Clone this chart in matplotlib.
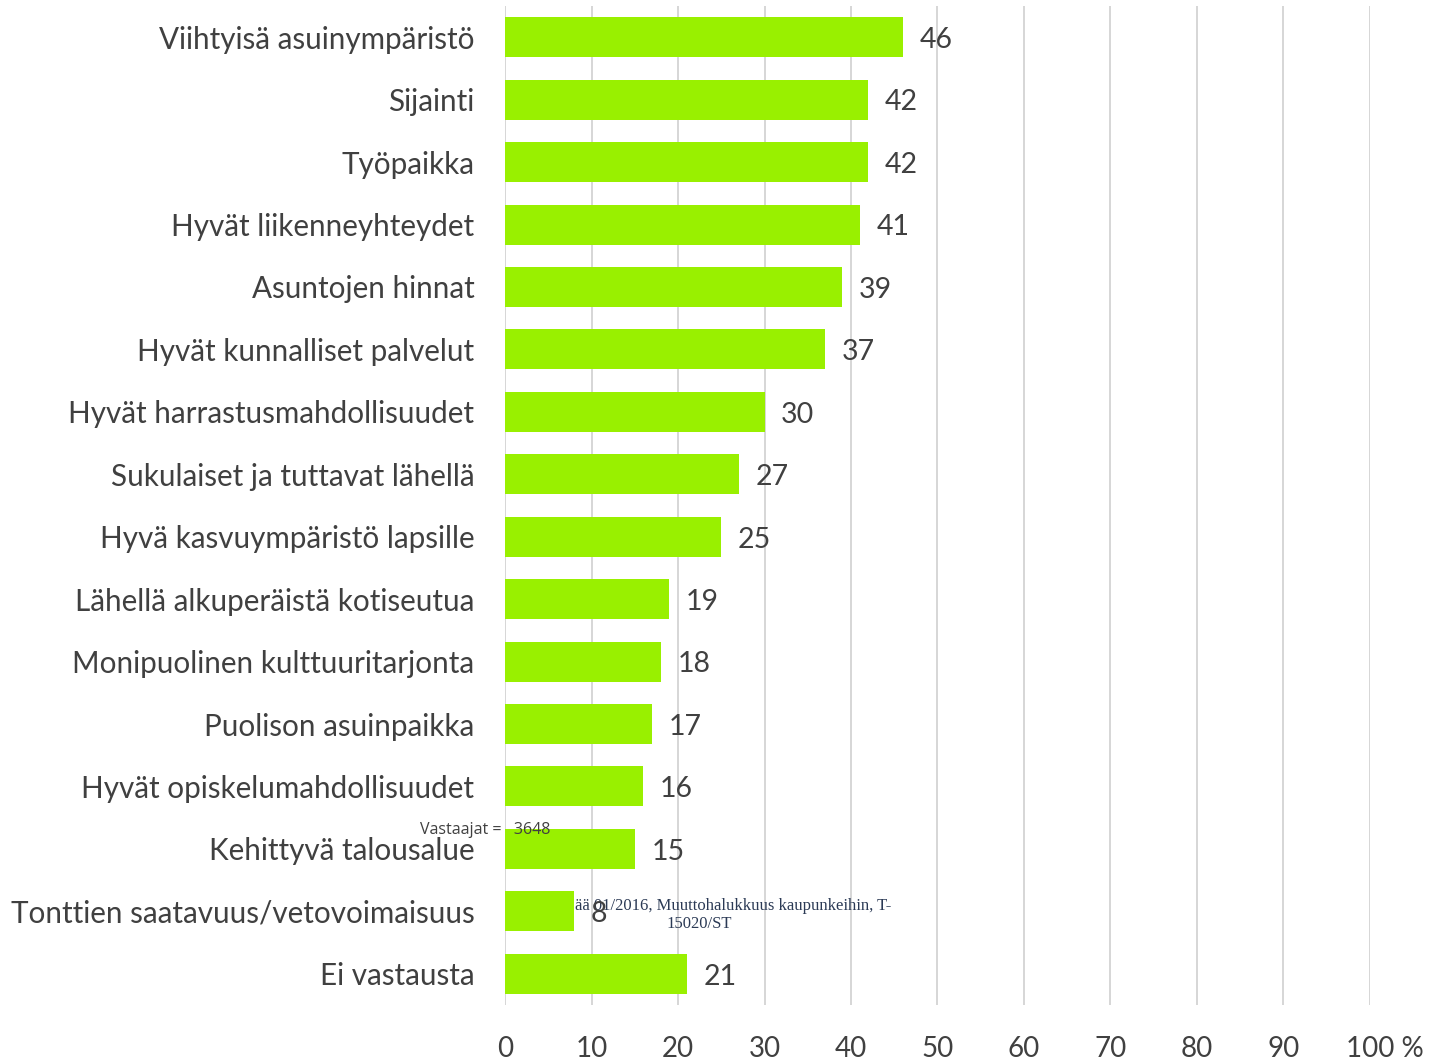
import matplotlib.pyplot as plt
from matplotlib.transforms import ScaledTranslation

# Reasons for choosing place of residence (%)
categories = [
    "Viihtyisä asuinympäristö",
    "Sijainti",
    "Työpaikka",
    "Hyvät liikenneyhteydet",
    "Asuntojen hinnat",
    "Hyvät kunnalliset palvelut",
    "Hyvät harrastusmahdollisuudet",
    "Sukulaiset ja tuttavat lähellä",
    "Hyvä kasvuympäristö lapsille",
    "Lähellä alkuperäistä kotiseutua",
    "Monipuolinen kulttuuritarjonta",
    "Puolison asuinpaikka",
    "Hyvät opiskelumahdollisuudet",
    "Kehittyvä talousalue",
    "Tonttien saatavuus/vetovoimaisuus",
    "Ei vastausta",
]
values = [46, 42, 42, 41, 39, 37, 30, 27, 25, 19, 18, 17, 16, 15, 8, 21]
x_ticks = [0, 10, 20, 30, 40, 50, 60, 70, 80, 90, 100]
x_ticklabels = ["0", "10", "20", "30", "40", "50", "60", "70", "80", "90", "100 %"]

respondents = "Vastaajat =   3648"
source_line1 = "ää 01/2016, Muuttohalukkuus kaupunkeihin, T-"
source_line2 = "15020/ST"

text_col = "#404040"
bar_col = "#99F000"
grid_col = "#d0d0d0"
sans = ["Lato", "DejaVu Sans"]
serif = ["Liberation Serif", "DejaVu Serif"]

fig = plt.figure(figsize=(14.29, 10.61), dpi=100)
ax = fig.add_axes([0.3534, 0.0528, 0.6053, 0.9415])

pos = list(range(len(categories)))
ax.barh(pos, values, height=0.64, color=bar_col, zorder=3)

for y, v in zip(pos, values):
    ax.annotate(str(v), (v, y), xytext=(12, -2), textcoords="offset points",
                va="center", ha="left", fontsize=20.5, color=text_col,
                family=sans, zorder=5)

ax.set_xlim(0, 100)
ax.set_ylim(len(categories) - 0.5, -0.5)
ax.set_yticks(pos)
ax.set_yticklabels(categories, fontsize=21.3, color=text_col, family=sans)
ax.set_xticks(x_ticks)
ax.set_xticklabels(x_ticklabels, fontsize=20, color=text_col, family=sans)
ax.tick_params(axis="y", length=0, pad=22)
ax.tick_params(axis="x", length=0, pad=22)

# shift the "100 %" label so that the number sits on the gridline
last = ax.get_xticklabels()[-1]
last.set_transform(last.get_transform() + ScaledTranslation(0.15, 0, fig.dpi_scale_trans))

ax.grid(axis="x", color=grid_col, linewidth=1.2, zorder=0)
for s in ax.spines.values():
    s.set_visible(False)

ax.text(-9.8, 12.7, respondents, fontsize=11.5, color=text_col, va="center", ha="left",
        family=["Open Sans", "DejaVu Sans"], zorder=6, clip_on=False)
ax.text(8.1, 13.92, source_line1, fontsize=12, color="#2b3a55", va="center", ha="left",
        family=serif, zorder=2)
ax.text(22.5, 14.2, source_line2, fontsize=12, color="#2b3a55", va="center", ha="center",
        family=serif, zorder=2)

fig.savefig("out.png", dpi=100)
